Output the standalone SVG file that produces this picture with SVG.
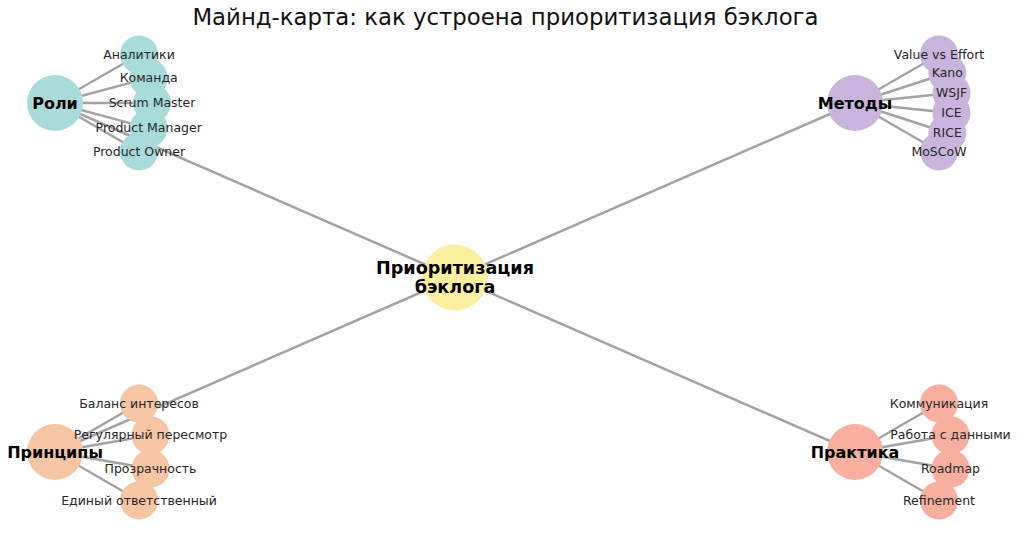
<svg xmlns="http://www.w3.org/2000/svg" width="1024" height="533" viewBox="0 0 1024 533">
<style>
  .edge { stroke: #a3a3a3; stroke-width: 2.5; fill: none; stroke-linecap: butt; }
  .root { fill: #fcef9f; }
  .roli { fill: #a9dbdb; }
  .metody { fill: #c9b4de; }
  .princ { fill: #f6c5a4; }
  .prakt { fill: #f8af9f; }
  .title { font-family: "DejaVu Sans", sans-serif; font-size: 22.8px; fill: #111; text-anchor: middle; }
  .big { font-family: "DejaVu Sans", sans-serif; font-size: 16px; font-weight: bold; fill: #000; text-anchor: middle; }
  .rootlbl { font-size: 17.6px; }
  .small { font-family: "DejaVu Sans", sans-serif; font-size: 12.5px; fill: #262626; text-anchor: middle; }
</style>
<rect width="1024" height="533" fill="#ffffff"/>
<text class="title" x="505.5" y="25">Майнд-карта: как устроена приоритизация бэклога</text>

<g id="connectors">
  <line class="edge" x1="455" y1="277.5" x2="55" y2="103"/>
  <line class="edge" x1="455" y1="277.5" x2="855" y2="103"/>
  <line class="edge" x1="455" y1="277.5" x2="55" y2="452"/>
  <line class="edge" x1="455" y1="277.5" x2="855" y2="452"/>

  <line class="edge" x1="55" y1="103" x2="139" y2="54.5"/>
  <line class="edge" x1="55" y1="103" x2="148.7" y2="77.9"/>
  <line class="edge" x1="55" y1="103" x2="152" y2="103"/>
  <line class="edge" x1="55" y1="103" x2="148.7" y2="128.1"/>
  <line class="edge" x1="55" y1="103" x2="139" y2="151.5"/>

  <line class="edge" x1="855" y1="103" x2="939" y2="54.5"/>
  <line class="edge" x1="855" y1="103" x2="947.3" y2="73"/>
  <line class="edge" x1="855" y1="103" x2="951.5" y2="92.9"/>
  <line class="edge" x1="855" y1="103" x2="951.5" y2="113.1"/>
  <line class="edge" x1="855" y1="103" x2="947.3" y2="133"/>
  <line class="edge" x1="855" y1="103" x2="939" y2="151.5"/>

  <line class="edge" x1="55" y1="452" x2="139" y2="403.5"/>
  <line class="edge" x1="55" y1="452" x2="150.5" y2="435.2"/>
  <line class="edge" x1="55" y1="452" x2="150.5" y2="468.8"/>
  <line class="edge" x1="55" y1="452" x2="139" y2="500.5"/>

  <line class="edge" x1="855" y1="452" x2="939" y2="403.5"/>
  <line class="edge" x1="855" y1="452" x2="950.5" y2="435.2"/>
  <line class="edge" x1="855" y1="452" x2="950.5" y2="468.8"/>
  <line class="edge" x1="855" y1="452" x2="939" y2="500.5"/>
</g>

<g id="nodes">
  <g id="node-root"><circle class="root" cx="455" cy="277.5" r="33"/></g>
  <g id="node-roli"><circle class="roli" cx="55" cy="103" r="28"/></g>
  <g id="node-metody"><circle class="metody" cx="855" cy="103" r="28"/></g>
  <g id="node-principy"><circle class="princ" cx="55" cy="452" r="28"/></g>
  <g id="node-praktika"><circle class="prakt" cx="855" cy="452" r="28"/></g>

  <g id="node-analitiki"><circle class="roli" cx="139" cy="54.5" r="19"/></g>
  <g id="node-komanda"><circle class="roli" cx="148.7" cy="77.9" r="19"/></g>
  <g id="node-scrum-master"><circle class="roli" cx="152" cy="103" r="19"/></g>
  <g id="node-product-manager"><circle class="roli" cx="148.7" cy="128.1" r="19"/></g>
  <g id="node-product-owner"><circle class="roli" cx="139" cy="151.5" r="19"/></g>

  <g id="node-value-vs-effort"><circle class="metody" cx="939" cy="54.5" r="19"/></g>
  <g id="node-kano"><circle class="metody" cx="947.3" cy="73" r="19"/></g>
  <g id="node-wsjf"><circle class="metody" cx="951.5" cy="92.9" r="19"/></g>
  <g id="node-ice"><circle class="metody" cx="951.5" cy="113.1" r="19"/></g>
  <g id="node-rice"><circle class="metody" cx="947.3" cy="133" r="19"/></g>
  <g id="node-moscow"><circle class="metody" cx="939" cy="151.5" r="19"/></g>

  <g id="node-balans"><circle class="princ" cx="139" cy="403.5" r="19"/></g>
  <g id="node-peresmotr"><circle class="princ" cx="150.5" cy="435.2" r="19"/></g>
  <g id="node-prozrachnost"><circle class="princ" cx="150.5" cy="468.8" r="19"/></g>
  <g id="node-edinyi"><circle class="princ" cx="139" cy="500.5" r="19"/></g>

  <g id="node-kommunikaciya"><circle class="prakt" cx="939" cy="403.5" r="19"/></g>
  <g id="node-dannye"><circle class="prakt" cx="950.5" cy="435.2" r="19"/></g>
  <g id="node-roadmap"><circle class="prakt" cx="950.5" cy="468.8" r="19"/></g>
  <g id="node-refinement"><circle class="prakt" cx="939" cy="500.5" r="19"/></g>
</g>

<g id="labels">
  <text class="big rootlbl" x="455" y="274">Приоритизация</text>
  <text class="big rootlbl" x="455" y="292.5">бэклога</text>
  <text class="big" x="55" y="108.7">Роли</text>
  <text class="big" x="855" y="108.7">Методы</text>
  <text class="big" x="55" y="457.7">Принципы</text>
  <text class="big" x="855" y="457.7">Практика</text>

  <text class="small" x="139" y="58.5">Аналитики</text>
  <text class="small" x="148.7" y="82">Команда</text>
  <text class="small" x="152" y="107.2">Scrum Master</text>
  <text class="small" x="148.7" y="132.3">Product Manager</text>
  <text class="small" x="139" y="155.7">Product Owner</text>

  <text class="small" x="939" y="58.5">Value vs Effort</text>
  <text class="small" x="947.3" y="77.2">Kano</text>
  <text class="small" x="951.5" y="97.1">WSJF</text>
  <text class="small" x="951.5" y="117.3">ICE</text>
  <text class="small" x="947.3" y="137.2">RICE</text>
  <text class="small" x="939" y="155.7">MoSCoW</text>

  <text class="small" x="139" y="407.7">Баланс интересов</text>
  <text class="small" x="150.5" y="439.4">Регулярный пересмотр</text>
  <text class="small" x="150.5" y="473">Прозрачность</text>
  <text class="small" x="139" y="504.7">Единый ответственный</text>

  <text class="small" x="939" y="407.7">Коммуникация</text>
  <text class="small" x="950.5" y="439.4">Работа с данными</text>
  <text class="small" x="950.5" y="473">Roadmap</text>
  <text class="small" x="939" y="504.7">Refinement</text>
</g>
</svg>
